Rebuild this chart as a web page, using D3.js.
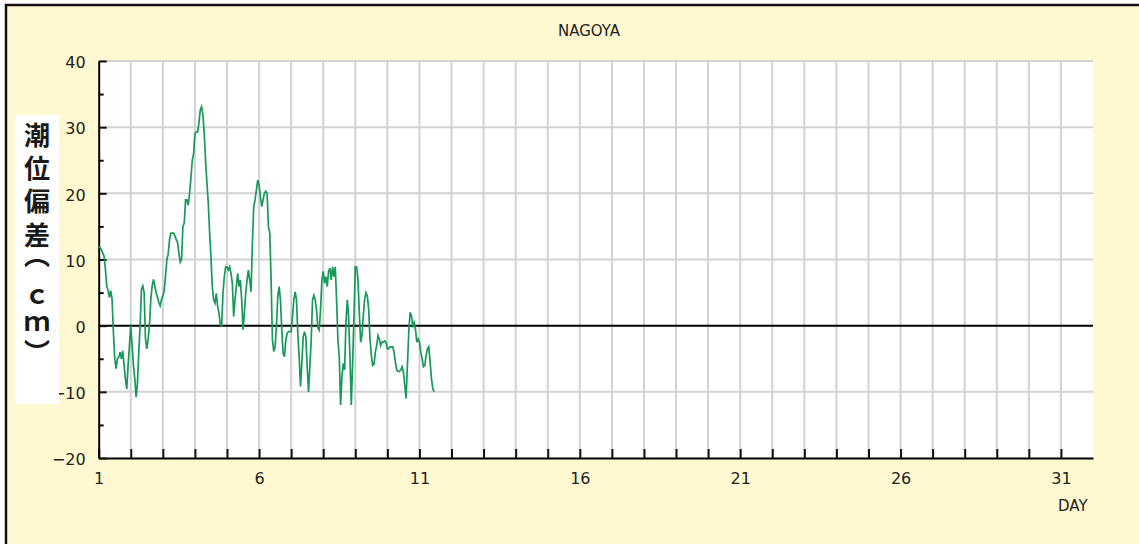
<!DOCTYPE html>
<html>
<head>
<meta charset="utf-8">
<script src="https://cdn.jsdelivr.net/npm/d3@7"></script>
<style>
  html, body { margin: 0; padding: 0; background: #ffffff; }
  svg { display: block; }
</style>
</head>
<body>
<svg id="chart" width="1139" height="544"></svg>
<script>
// ---- data ----
const stationName = "NAGOYA";
const yAxisTitle = ["潮", "位", "偏", "差", "（", "ｃ", "ｍ", "）"];
const xAxisTitle = "DAY";
const startDay = 1;          // first hourly value = day 1, 00h
const hoursPerDay = 24;
// hourly tide deviation (cm)
const deviation = [
  12, 11.8, 11.5, 11, 10.5, 8.6, 6, 5.3, 4.3, 5.3,
  4, -1, -5, -6.5, -5, -4.8, -4, -5, -3.8, -6,
  -8, -9.6, -6, -3, 0, -3, -6, -8, -10.8, -8.6,
  -4, 0, 5.5, 6, 5, -2, -3.5, -2, 0, 4,
  6, 7, 6, 5, 4.3, 3.5, 3, 4, 4.5, 5.3,
  7.5, 10, 10.8, 13, 14, 14, 14, 13.6, 13, 12.6,
  11, 9.6, 10, 15, 15.5, 19, 19, 18.2, 20, 22.3,
  25, 26, 29, 29.3, 29.3, 30.6, 32.6, 33.1, 31.8, 29,
  24.8, 21.5, 18.5, 14, 10.4, 5.9, 3.9, 3.4, 4.9, 2.9,
  1.9, 0.1, 0, 4.9, 7.4, 8.9, 8.9, 8.4, 8.9, 7.9,
  6.4, 1.4, 3.9, 5.9, 7.9, 5.9, 6.9, 3.9, -0.6, 1.9,
  4.9, 6.9, 8.4, 6.9, 5.1, 12.4, 18, 19, 20.5, 22,
  21.3, 19.5, 18, 19, 20, 20.3, 20, 15, 14, 7,
  -2.2, -3.9, -3.2, 0, 4.4, 5.9, 3.9, -0.6, -4.2, -4.7,
  -2.2, -1.2, -0.9, -0.9, -0.9, 1.4, 3.9, 5.1, 3.9, -1.2,
  -4.7, -9.2, -5.7, -1.7, -0.9, -1.7, -6.2, -10, -6.2, -2.2,
  3.9, 4.6, 3.9, 2.4, -0.4, -0.7, 2.4, 6.9, 8.2, 6.4,
  7.4, 5.9, 8.2, 8.7, 6.9, 8.9, 7.4, 8.9, 3.9, -2.2,
  -4.7, -12, -7.7, -5.7, -6.7, 0.4, 3.9, 1.4, -4.7, -12,
  -5.7, 1.4, 8.9, 8.9, 7, 2, -2.5, -1.5, 1.5, 4,
  5, 4.5, 2.5, -2, -4.5, -6, -5.8, -4, -3, -1.5,
  -2, -3, -2.5, -2.5, -2.3, -2.5, -3.5, -3.5, -3.2, -3.2,
  -3.2, -4, -5.5, -6.7, -6.9, -6.9, -6.7, -6.2, -7, -9,
  -11, -6, -1, 2, 1.5, 0, 0.5, -0.5, -2.5, -2,
  -2.5, -4, -5, -6.2, -6, -4.5, -3.5, -3.2, -5.5, -8,
  -9.5, -10
];
const xDomain = [1, 32];
const dayTicks = d3.range(1, 32);           // 1..31
const dayLabels = [1, 6, 11, 16, 21, 26, 31];
const yDomain = [-20, 40];
const yMajorTicks = [-20, -10, 0, 10, 20, 30, 40];
const yMinorTicks = [-15, -5, 5, 15, 25, 35];

// ---- layout ----
const svg = d3.select("#chart");
const plot = { left: 98.7, right: 1093, top: 61, bottom: 458 };
const x = d3.scaleLinear().domain(xDomain).range([plot.left, plot.right]);
const y = d3.scaleLinear().domain(yDomain).range([plot.bottom, plot.top]);
const textColor = "#222";
const numFont = "'DejaVu Sans', sans-serif";

// outer frame
svg.append("rect").attr("x", 6).attr("y", 5).attr("width", 1140).attr("height", 545)
  .attr("fill", "#fff8d0").attr("stroke", "#111").attr("stroke-width", 2.5);

// plot background
svg.append("rect").attr("x", plot.left).attr("y", plot.top)
  .attr("width", plot.right - plot.left).attr("height", plot.bottom - plot.top)
  .attr("fill", "#ffffff");

// grid
const grid = svg.append("g").attr("stroke", "#d2d2d2").attr("stroke-width", 2);
grid.selectAll("line.v").data(dayTicks.slice(1)).join("line")
  .attr("x1", d => x(d)).attr("x2", d => x(d))
  .attr("y1", plot.top).attr("y2", plot.bottom);
grid.selectAll("line.h").data(yMajorTicks.filter(d => d !== 0 && d !== -20)).join("line")
  .attr("x1", plot.left).attr("x2", plot.right)
  .attr("y1", d => y(d)).attr("y2", d => y(d));

// zero line
svg.append("line").attr("x1", plot.left).attr("x2", plot.right)
  .attr("y1", y(0)).attr("y2", y(0)).attr("stroke", "#000").attr("stroke-width", 2);

// x axis
const xAxis = svg.append("g").attr("transform", `translate(0,${plot.bottom})`)
  .call(d3.axisBottom(x).tickValues(dayTicks).tickSizeInner(-9).tickSizeOuter(0)
    .tickFormat(d => dayLabels.includes(d) ? String(d) : ""));
xAxis.select(".domain").attr("stroke", "#000").attr("stroke-width", 2);
xAxis.selectAll(".tick line").attr("stroke", "#111").attr("stroke-width", 2);
xAxis.selectAll(".tick text").attr("y", 26).attr("dy", 0)
  .attr("fill", textColor).style("font", `16px ${numFont}`);

// y axis minor ticks
const yMinor = svg.append("g").attr("transform", `translate(${plot.left},0)`)
  .call(d3.axisLeft(y).tickValues(yMinorTicks).tickSizeInner(-5).tickSizeOuter(0).tickFormat(""));
yMinor.select(".domain").remove();
yMinor.selectAll(".tick line").attr("stroke", "#111").attr("stroke-width", 2);

// y axis major
const yAxis = svg.append("g").attr("transform", `translate(${plot.left},0)`)
  .call(d3.axisLeft(y).tickValues(yMajorTicks).tickSizeInner(-8).tickSizeOuter(0).tickPadding(13));
yAxis.select(".domain").attr("stroke", "#000").attr("stroke-width", 2);
yAxis.selectAll(".tick line").attr("stroke", "#111").attr("stroke-width", 2);
yAxis.selectAll(".tick text").attr("fill", textColor).attr("dy", "0.42em")
  .style("font", `16px ${numFont}`);

// data line
const line = d3.line()
  .x((d, i) => x(startDay + i / hoursPerDay))
  .y(d => y(d));
svg.append("path").datum(deviation)
  .attr("d", line).attr("fill", "none")
  .attr("stroke", "#17995a").attr("stroke-width", 1.7).attr("stroke-linejoin", "miter");

// title
svg.append("text").attr("x", 589).attr("y", 35.5).attr("text-anchor", "middle")
  .attr("fill", textColor).style("font", `15px ${numFont}`).text(stationName);

// DAY label
svg.append("text").attr("x", 1058).attr("y", 511)
  .attr("fill", textColor).style("font", `15px ${numFont}`).text(xAxisTitle);

// y axis title box (vertical writing)
svg.append("rect").attr("x", 15).attr("y", 115).attr("width", 44).attr("height", 289)
  .attr("fill", "#ffffff");
const titleTop = [122, 155, 188, 222, 242, 284, 311, 339];
const tg = svg.append("text")
  .attr("x", 37).attr("y", titleTop[0])
  .attr("fill", "#1a1a1a")
  .style("writing-mode", "vertical-rl")
  .style("font", "bold 26px 'Noto Sans CJK JP', sans-serif");
yAxisTitle.forEach((ch, i) => {
  tg.append("tspan").attr("x", 37).attr("y", titleTop[i]).text(ch);
});
</script>
</body>
</html>
